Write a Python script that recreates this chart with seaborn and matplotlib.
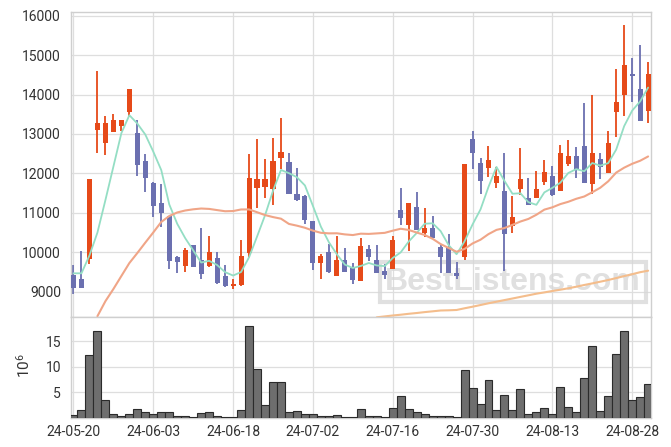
import numpy as np
import pandas as pd
import matplotlib
matplotlib.use("Agg")
import matplotlib.pyplot as plt
import seaborn as sns

# ---------------- data ----------------
tick_labels = ["24-05-20", "24-06-03", "24-06-18", "24-07-02",
               "24-07-16", "24-07-30", "24-08-13", "24-08-28"]
tick_index = [0, 10, 20, 30, 40, 50, 60, 70]

opens = [9424, 9323, 9822, 13109, 12764, 13043, 13210, 13565, 13025, 12315,
         11757, 11250, 10913, 9881, 9660, 10177, 9797, 9660, 9855, 9399,
         9153, 9178, 9990, 11638, 11663, 11597, 12399, 12282, 11471, 11428,
         10794, 9736, 10000, 9391, 9797, 9619, 9280, 10091, 9805, 9526,
         9569, 11073, 10692, 11141, 10481, 10608, 10127, 10142, 9482, 9888,
         12873, 12264, 12145, 11765, 11562, 10659, 11597, 11369, 11384, 11790,
         11935, 11562, 12239, 12442, 12696, 11740, 12366, 12019, 13565, 13997,
         14522, 14141, 13591]
highs = [9678, 10033, 11859, 14605, 13464, 13507, 13347, 14133, 13355, 12500,
         11770, 11732, 10913, 9900, 10101, 10177, 10608, 10413, 10000, 9670,
         9315, 10304, 12493, 12866, 12358, 12891, 13398, 12510, 12130, 11450,
         10794, 9956, 10218, 10413, 10101, 9721, 10370, 10185, 10185, 9703,
         10413, 11623, 11258, 11537, 11131, 10928, 10185, 10464, 9746, 12239,
         13084, 12384, 12696, 12171, 12510, 11428, 12637, 11892, 12069, 12341,
         12188, 12713, 12840, 12670, 13778, 13989, 12526, 13084, 14641, 15757,
         14920, 15257, 14826]
lows = [8935, 9102, 9703, 12510, 12460, 13043, 13084, 13423, 11927, 11521,
        10903, 10634, 9584, 9467, 9508, 9635, 9330, 9620, 9200, 9130,
        9061, 9150, 9888, 11116, 11369, 11192, 12112, 11471, 11300, 10717,
        9550, 9323, 9467, 9391, 9508, 9196, 9280, 9787, 9470, 9323,
        9569, 10692, 10033, 10565, 10395, 10370, 9467, 9482, 9330, 9805,
        12105, 11471, 11917, 11623, 9526, 10481, 11453, 11207, 11384, 11707,
        11435, 11562, 12196, 11876, 11765, 11478, 11859, 12019, 12931, 13456,
        13804, 13337, 13271]
closes = [9102, 9102, 11859, 13279, 13279, 13347, 13347, 14133, 12221, 11876,
          11182, 11004, 9787, 9761, 10058, 9635, 9457, 10007, 9229, 9153,
          9204, 9906, 11876, 11851, 11851, 12315, 12543, 11471, 11334, 10811,
          9721, 9906, 9508, 9797, 9508, 9290, 10160, 9888, 9482, 9432,
          10312, 10877, 11258, 10565, 10608, 10370, 9888, 9482, 9406, 12239,
          12510, 11800, 12341, 11935, 10464, 10887, 11859, 11207, 11605, 12036,
          11461, 12510, 12442, 12095, 11765, 12510, 12171, 12764, 13811, 14742,
          14471, 13337, 14522]
volumes = [0.63, 1.48, 12.35, 17.1, 3.46, 0.83, 0.49, 0.83, 1.68, 1.09,
           0.83, 1.09, 1.09, 0.30, 0.30, 0.10, 0.89, 1.09, 0.30, 0.10,
           0.10, 1.48, 18.1, 9.58, 2.60, 7.00, 7.00, 1.09, 1.28, 0.69,
           0.83, 0.30, 0.49, 0.63, 0.10, 0.10, 1.68, 0.30, 0.30, 0.10,
           1.88, 4.25, 1.68, 1.09, 0.69, 0.30, 0.40, 0.40, 0.10, 9.39,
           5.83, 2.67, 7.41, 1.48, 4.45, 1.48, 5.63, 0.69, 1.09, 1.88,
           0.69, 6.03, 2.07, 1.09, 7.80, 14.13, 1.28, 4.25, 12.55, 17.1,
           3.46, 4.05, 6.62]
ma5 = [9467, 9467, 9920, 10500, 11324, 12173, 13022, 13477, 13265, 12985,
       12552, 12083, 11214, 10722, 10358, 10049, 9740, 9784, 9677, 9496,
       9410, 9500, 9874, 10398, 10938, 11560, 12087, 12006, 11903, 11695,
       11176, 10649, 10256, 9949, 9688, 9602, 9653, 9729, 9666, 9650,
       9855, 9998, 10272, 10489, 10724, 10736, 10538, 10183, 9951, 10277,
       10705, 11087, 11659, 12165, 11810, 11485, 11497, 11270, 11204, 11519,
       11634, 11764, 12011, 12109, 12055, 12264, 12197, 12261, 12604, 13200,
       13592, 13825, 14177]
ma20 = [np.nan, np.nan, np.nan, 8380, 8760, 9069, 9399, 9727, 9982, 10246,
        10504, 10770, 10920, 11010, 11060, 11090, 11110, 11100, 11070, 11041,
        11046, 11086, 11087, 11016, 10944, 10893, 10852, 10719, 10675, 10622,
        10549, 10494, 10480, 10482, 10454, 10437, 10472, 10466, 10479, 10493,
        10548, 10597, 10566, 10501, 10439, 10342, 10209, 10110, 10013, 10085,
        10224, 10319, 10461, 10568, 10615, 10695, 10780, 10846, 10952, 11082,
        11140, 11222, 11281, 11357, 11415, 11522, 11636, 11800, 12021, 12146,
        12244, 12321, 12430]
ma60 = [np.nan] * 38 + [
        8351, 8374, 8397, 8417, 8440, 8460, 8483, 8503, 8524, 8529,
        8537, 8580, 8620, 8663, 8707, 8747, 8788, 8828, 8869, 8909,
        8950, 8983, 9018, 9051, 9087, 9127, 9171, 9211, 9254, 9297,
        9346, 9396, 9444, 9495, 9533]

# ---------------- style ----------------
sns.set_style("white")
plt.rcParams['font.family'] = ['Roboto', 'DejaVu Sans']
plt.rcParams['mathtext.fontset'] = 'custom'
plt.rcParams['mathtext.rm'] = 'Roboto'
plt.rcParams['mathtext.it'] = 'Roboto'

UP = '#e64a19'
DOWN = '#6b70b0'
GRID = '#dedede'
SPINE = '#cfcfcf'
TXT = '#333333'

df = pd.DataFrame({"i": np.arange(len(closes)), "open": opens, "high": highs,
                   "low": lows, "close": closes, "vol": volumes,
                   "ma5": ma5, "ma20": ma20, "ma60": ma60})
df["up"] = df["close"] >= df["open"]
cols = np.where(df["up"], UP, DOWN)

fig = plt.figure(figsize=(6.71, 4.47), dpi=100)
L, W = 70.7 / 671, (651.3 - 70.7) / 671
ax = fig.add_axes([L, 1 - 317 / 447, W, (317 - 12.3) / 447])
axv = fig.add_axes([L, 1 - 418 / 447, W, (418 - 317) / 447])

# ---- price panel ----
ax.vlines(df["i"], df["low"], df["high"], colors=cols, linewidth=1.3, zorder=2)
ax.bar(df["i"], (df["close"] - df["open"]).abs().clip(lower=25),
       bottom=np.minimum(df["open"], df["close"]), width=0.64,
       color=cols, linewidth=0, zorder=3)
sns.lineplot(data=df, x="i", y="ma5", ax=ax, color='#94dec4', lw=1.3,
             estimator=None, sort=False, zorder=4)
sns.lineplot(data=df.dropna(subset=["ma20"]), x="i", y="ma20", ax=ax,
             color='#f0a587', lw=1.5, estimator=None, sort=False, zorder=4)
sns.lineplot(data=df.dropna(subset=["ma60"]), x="i", y="ma60", ax=ax,
             color='#f4bd8c', lw=1.5, estimator=None, sort=False, zorder=4)

ax.set_xlim(-0.35, 72.4)
ax.set_ylim(8359, 16086)
ax.set_yticks(range(9000, 16001, 1000))
ax.set_xticks(tick_index)
ax.set_xticklabels([])
ax.set_xlabel("")
ax.set_ylabel("")
ax.grid(True, color=GRID, linewidth=0.9)
ax.set_axisbelow(True)
ax.tick_params(length=0, labelsize=10, colors=TXT, pad=7)
for s in ax.spines.values():
    s.set_color(SPINE)
    s.set_linewidth(1.0)

ax.text(0.762, 0.115, "BestListens.com", transform=ax.transAxes,
        ha='center', va='center', fontsize=23, fontweight='bold',
        family='Liberation Sans', color='#d6d6d6', alpha=0.75, zorder=1,
        bbox=dict(boxstyle='square,pad=0.15', facecolor='none',
                  edgecolor='#d6d6d6', linewidth=3, alpha=0.75))

# ---- volume panel ----
sns.barplot(data=df, x="i", y="vol", ax=axv, color='#6e6e6e', saturation=1,
            width=1.0, edgecolor='#2b2b2b', linewidth=0.8, zorder=3)
axv.set_xlim(-0.35, 72.4)
axv.set_ylim(0, 19.8)
axv.set_yticks([5, 10, 15])
axv.set_xticks(tick_index)
axv.set_xticklabels(tick_labels)
axv.set_xlabel("")
axv.set_ylabel("$10^6$", fontsize=11, color=TXT)
axv.yaxis.set_label_coords(-0.065, 0.52)
axv.grid(True, color=GRID, linewidth=0.9)
axv.set_axisbelow(True)
axv.tick_params(length=0, labelsize=10, colors=TXT, pad=7)
axv.tick_params(axis='x', pad=5)
for s in axv.spines.values():
    s.set_color(SPINE)
    s.set_linewidth(1.0)

fig.savefig("out.png", dpi=100)
